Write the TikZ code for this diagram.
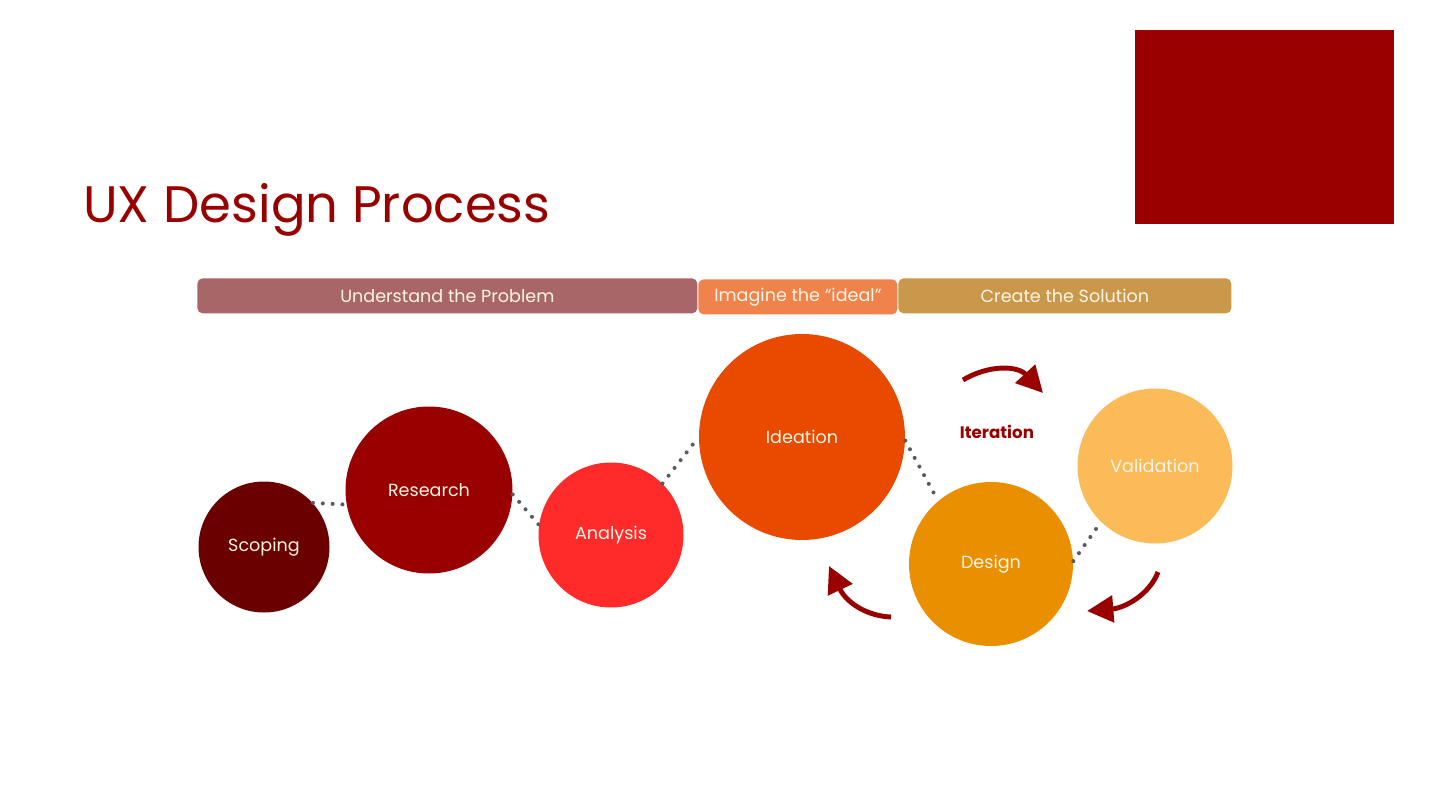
\documentclass[tikz,border=0pt]{standalone}
\usepackage{fontspec}
\setmainfont{Poppins}
\usetikzlibrary{arrows.meta}
\definecolor{brand}{HTML}{990000}
\definecolor{barA}{HTML}{A86668}
\definecolor{barB}{HTML}{F0834C}
\definecolor{barC}{HTML}{C9984A}
\definecolor{cScoping}{HTML}{6B0000}
\definecolor{cResearch}{HTML}{990000}
\definecolor{cAnalysis}{HTML}{FF2A2A}
\definecolor{cIdeation}{HTML}{E84A00}
\definecolor{cDesign}{HTML}{EA8F00}
\definecolor{cValidation}{HTML}{FBBB59}
\definecolor{dotgray}{HTML}{5A5A5A}
\definecolor{labeltext}{HTML}{FFF6E6}
\begin{document}
\begin{tikzpicture}[x=0.02cm,y=-0.02cm,
  phasebar/.style={rounded corners=3pt, inner sep=0pt, text=labeltext,
    font=\fontsize{10}{12}\selectfont, anchor=north west},
  stage/.style={circle, inner sep=0pt, text=labeltext,
    font=\fontsize{10}{12}\selectfont},
  dotlink/.style={dotgray, line width=2.3pt, line cap=round,
    dash pattern=on 0pt off 5.6pt},
  loop/.style={brand, line width=2.8pt,
    -{Triangle[length=15pt,width=15pt]}}
]
\useasboundingbox (0,0) rectangle (1438,808);

% corner block
\fill[brand] (1135,30) rectangle (1394,224);

% title
\node[anchor=base west, inner sep=0pt, text=brand,
  font=\fontsize{29.2}{34}\selectfont] (title) at (83,222) {UX Design Process};

% phase bars
\node[phasebar, fill=barA, minimum width=500*0.02cm, minimum height=35*0.02cm]
  (understand) at (197,278) {Understand the Problem};
\node[phasebar, fill=barB, minimum width=199*0.02cm, minimum height=35*0.02cm]
  (imagine) at (698,279) {Imagine the ``ideal''};
\node[phasebar, fill=barC, minimum width=333*0.02cm, minimum height=35*0.02cm]
  (create) at (898,278) {Create the Solution};

% stages
\node[stage, fill=cScoping,    minimum size=131*0.02cm] (scoping)    at (264,547)  {Scoping};
\node[stage, fill=cResearch,   minimum size=167*0.02cm] (research)   at (429,490)  {Research};
\node[stage, fill=cAnalysis,   minimum size=145*0.02cm] (analysis)   at (611,535)  {Analysis};
\node[stage, fill=cIdeation,   minimum size=206*0.02cm] (ideation)   at (802,437)  {Ideation};
\node[stage, fill=cDesign,     minimum size=164*0.02cm] (design)     at (991,564)  {Design};
\node[stage, fill=cValidation, minimum size=155*0.02cm] (validation) at (1155,466) {Validation};

% dotted links between stages
\draw[dotlink] (scoping.42) -- (research.190);
\draw[dotlink] (research.-3) -- (analysis.172);
\draw[dotlink] (analysis.45) -- (ideation.180);
\draw[dotlink] (ideation.-2) -- (design.130);
\draw[dotlink] (design.2) -- (validation.226);

% iteration loop
\node[text=brand, font=\fontsize{9.5}{12}\selectfont\bfseries] (iteration) at (997,432) {Iteration};
\coordinate (topA) at (963,380);
\coordinate (topB) at (1043,393);
\coordinate (rightA) at (1158,572);
\coordinate (rightB) at (1087,611);
\coordinate (leftA) at (891,617);
\coordinate (leftB) at (829,566);
\draw[loop] (topA) .. controls (990,364) and (1018,366) .. (topB);
\draw[loop] (rightA) .. controls (1150,594) and (1125,608) .. (rightB);
\draw[loop] (leftA) .. controls (866,616) and (846,602) .. (leftB);
\end{tikzpicture}
\end{document}
